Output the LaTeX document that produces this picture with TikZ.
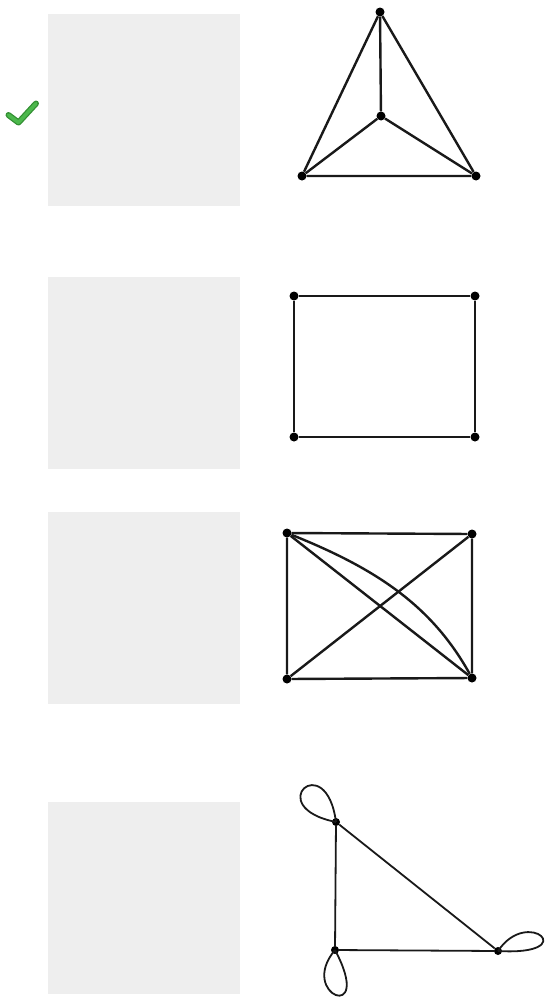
\documentclass[tikz,border=0pt]{standalone}
\usepackage{tikz}
\usetikzlibrary{calc}

\begin{document}
\begin{tikzpicture}[
    x=1pt, y=-1pt,
    card/.style={
      rectangle, fill=black!6.5, draw=none,
      minimum width=192pt, minimum height=192pt, inner sep=0pt
    },
    vtx/.style={circle, fill=black, inner sep=0pt, minimum size=9pt},
    edg/.style={line width=2.4pt, black!90},
    thinedg/.style={line width=1.8pt, black!90},
    tick/.style={line width=6pt, line cap=round, line join=round},
  ]

  % Page frame
  \useasboundingbox (0,0) rectangle (552,1001);

  % Answer cards (left column)
  \node[card] (card1) at (144,110) {};
  \node[card] (card2) at (144,373) {};
  \node[card] (card3) at (144,608) {};
  \node[card] (card4) at (144,898) {};

  % Check mark beside the first card
  \coordinate (tka) at (8.5,115);
  \coordinate (tkb) at (18.5,122.5);
  \coordinate (tkc) at (36,103.5);
  \draw[tick, draw=green!45!black!80] (tka) -- (tkb) -- (tkc);
  \draw[tick, line width=3.5pt, draw=green!60!black!70!white] (tka) -- (tkb) -- (tkc);

  % Graph 1: triangle with a centre vertex
  \node[vtx] (ga) at (380,12) {};
  \node[vtx] (gb) at (381,116) {};
  \node[vtx] (gc) at (302,176) {};
  \node[vtx] (gd) at (476,176) {};
  \draw[edg] (ga) -- (gc) -- (gd) -- (ga);
  \draw[edg] (gb) -- (ga);
  \draw[edg] (gb) -- (gc);
  \draw[edg] (gb) -- (gd);

  % Graph 2: the 4-cycle
  \node[vtx] (ha) at (294,296) {};
  \node[vtx] (hb) at (475,296) {};
  \node[vtx] (hc) at (475,437) {};
  \node[vtx] (hd) at (294,437) {};
  \draw[edg] (ha) -- (hb) -- (hc) -- (hd) -- (ha);

  % Graph 3: rectangle, both diagonals and a curved second edge
  \node[vtx] (ka) at (287,533) {};
  \node[vtx] (kb) at (472,534) {};
  \node[vtx] (kc) at (472,678) {};
  \node[vtx] (kd) at (287,679) {};
  \draw[edg] (ka) -- (kb) -- (kc) -- (kd) -- (ka);
  \draw[edg] (ka) -- (kc);
  \draw[edg] (kb) -- (kd);
  \draw[edg] (ka) .. controls +(90,36) and +(-40,-72) .. (kc);

  % Graph 4: triangle with a loop at every vertex
  \node[vtx, minimum size=8pt] (ma) at (336,822) {};
  \node[vtx, minimum size=8pt] (mb) at (335,950) {};
  \node[vtx, minimum size=8pt] (mc) at (498,951) {};
  \draw[thinedg] (ma) -- (mb) -- (mc) -- (ma);
  \draw[thinedg] (ma.center) .. controls +(-75,-15) and +(-10,-75) .. (ma.center);
  \draw[thinedg] (mb.center) .. controls +(-38,45) and +(40,75) .. (mb.center);
  \draw[thinedg] (mc.center) .. controls +(30,-45) and +(85,5) .. (mc.center);

\end{tikzpicture}
\end{document}
